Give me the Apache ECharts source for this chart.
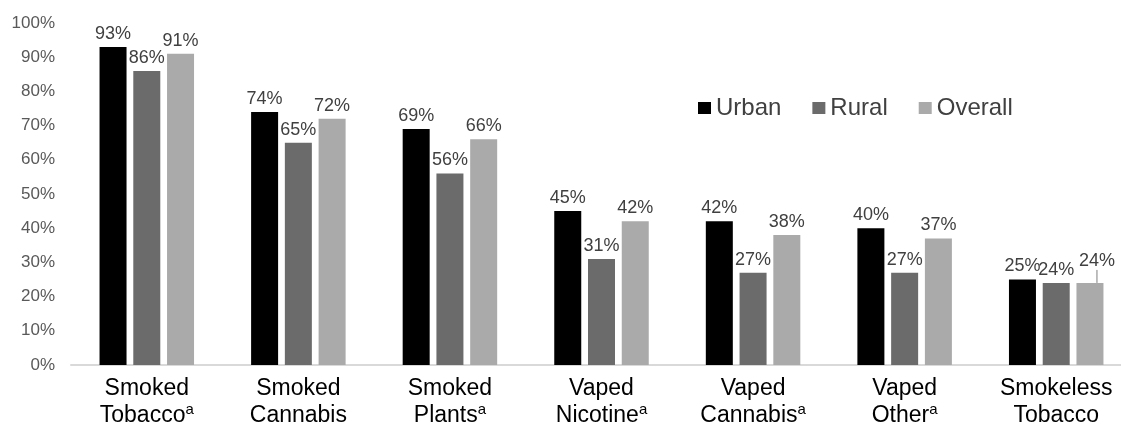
<!DOCTYPE html>
<html><head><meta charset="utf-8">
<script src="https://cdn.jsdelivr.net/npm/echarts@6/dist/echarts.min.js"></script>
<style>html,body{margin:0;padding:0;background:#fff;overflow:hidden}#c{width:1121px;height:425px}</style>
</head><body><div id="c"></div>
<script>
var categories = ['Smoked\nTobacco', 'Smoked\nCannabis', 'Smoked\nPlants', 'Vaped\nNicotine', 'Vaped\nCannabis', 'Vaped\nOther', 'Smokeless\nTobacco'];
var footnotes = ['a', '', 'a', 'a', 'a', 'a', ''];
var urban = [93, 74, 69, 45, 42, 40, 25];
var rural = [86, 65, 56, 31, 27, 27, 24];
var overall = [91, 72, 66, 42, 38, 37, 24];
var yTicks = [0, 10, 20, 30, 40, 50, 60, 70, 80, 90, 100];

var chart = echarts.init(document.getElementById('c'));
var font = 'Liberation Sans, Arial, sans-serif';
var labelCfg = { show: true, position: 'top', distance: 4, fontSize: 18, color: '#404040', fontFamily: font, formatter: '{c}%' };
function mk(name, data, color) {
  return { name: name, type: 'bar', data: data, barWidth: 27, barGap: '25%', itemStyle: { color: color }, label: labelCfg };
}
var overallSeries = mk('Overall', overall.map(function (v, i) {
  return i === 6 ? { value: v, labelLine: { show: true, lineStyle: { color: '#7f7f7f', width: 1 } } } : v;
}), '#aaaaaa');
overallSeries.labelLayout = function (p) { return p.dataIndex === 6 ? { dx: 7, dy: -9 } : {}; };

chart.setOption({
  animation: false,
  grid: { left: 71, width: 1061, top: 23, height: 342, containLabel: false, outerBoundsMode: 'none' },
  legend: {
    data: ['Urban', 'Rural', 'Overall'], left: 693, top: 91, itemWidth: 13, itemHeight: 12, itemGap: 31,
    icon: 'rect', textStyle: { fontSize: 24, color: '#404040', fontFamily: font, padding: [0, 0, 0, 0] }
  },
  xAxis: {
    type: 'category', data: categories,
    axisLine: { lineStyle: { color: '#d9d9d9', width: 2 } }, axisTick: { show: false },
    axisLabel: {
      margin: 10, interval: 0, color: '#000', fontSize: 23, fontFamily: font, lineHeight: 27,
      formatter: function (v, i) { return footnotes[i] ? v + '{sup|' + footnotes[i] + '}' : v; },
      rich: { sup: { fontSize: 15, color: '#000', fontFamily: font, verticalAlign: 'top', lineHeight: 27, padding: [0, 0, 6, 0] } }
    }
  },
  yAxis: {
    type: 'value', min: 0, max: 100, interval: 10,
    axisLine: { show: false }, axisTick: { show: false }, splitLine: { show: false },
    axisLabel: { margin: 16, fontSize: 17, color: '#595959', fontFamily: font, formatter: function (v) { return yTicks.indexOf(v) >= 0 ? v + '%' : ''; } }
  },
  series: [
    mk('Urban', urban, '#000000'),
    mk('Rural', rural, '#6b6b6b'),
    overallSeries
  ]
});
</script></body></html>
